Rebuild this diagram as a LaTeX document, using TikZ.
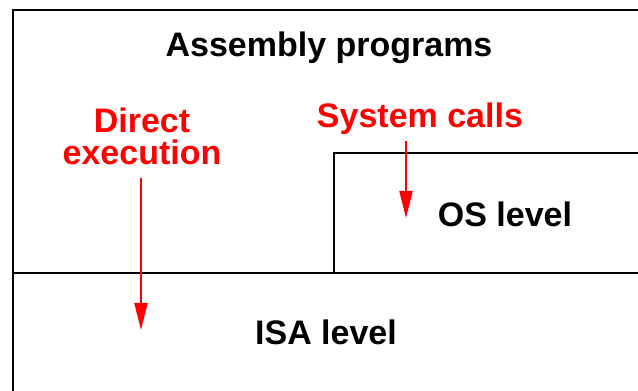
\documentclass[tikz,border=0pt]{standalone}
\usepackage{fontspec}
\setmainfont{Liberation Sans}
\usetikzlibrary{arrows.meta}

\begin{document}
\begin{tikzpicture}[x=1pt,y=1pt,line width=2pt,>={Triangle[length=27pt,width=13pt]}]
	\tikzstyle{lbl}=[inner sep=0pt,anchor=base,
	font=\bfseries\fontsize{34}{32}\selectfont
	]
	\tikzstyle{blk}=[lbl, text=black];
	\tikzstyle{rd}=[lbl, text=red, align=center];
	\tikzstyle{call}=[->,draw=red,line width=2pt];

\useasboundingbox (0,0) rectangle (638,391);

% frame and levels
\draw (13,0) -- (13,381) -- (640,381);
\draw (13,118) -- (640,118);
\draw (334,118) -- (334,238) -- (640,238);

\node[blk](asm) at (329,334){Assembly programs};
\node[blk](os) at (505,164){OS level};
\node[blk](isa) at (326,46){ISA level};

\node[rd](direct) at (142,226){Direct\\execution};
\node[rd](sys) at (420,263){System calls};

\coordinate (directtip) at (141,61);
\coordinate (systip) at (406,173);

\draw[call] (directtip |- 0,213) -- (directtip);
\draw[call] (systip |- sys.south) ++(0,-5) -- (systip);

\end{tikzpicture}
\end{document}
